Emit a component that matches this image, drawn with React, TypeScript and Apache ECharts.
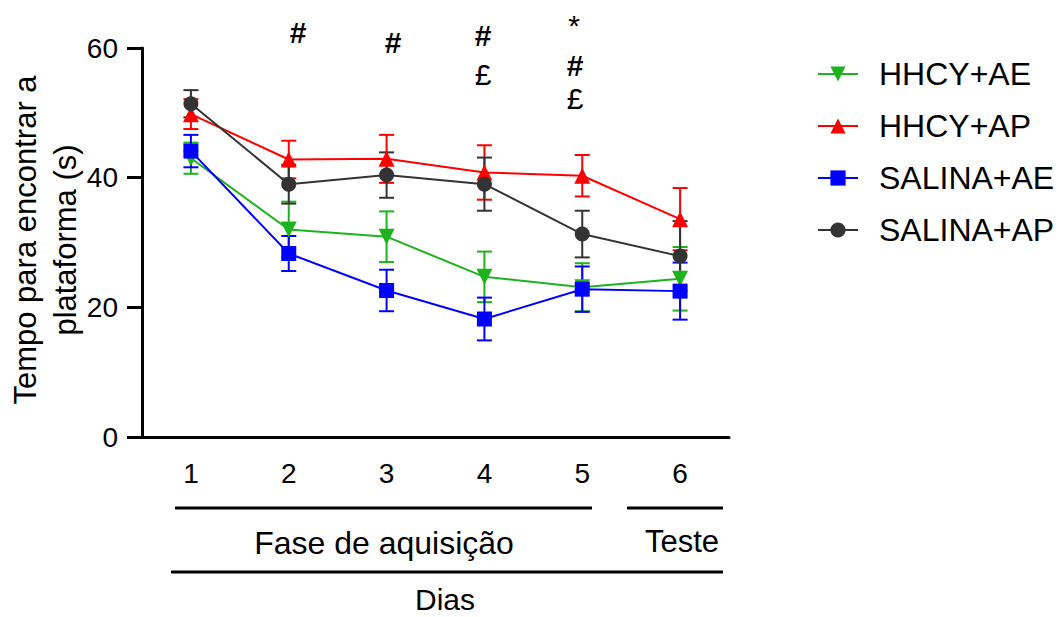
import React, { useEffect, useRef } from "react";
import * as echarts from "echarts";

const days = ["1", "2", "3", "4", "5", "6"];
const seriesNames = ["HHCY+AE", "HHCY+AP", "SALINA+AE", "SALINA+AP"];
const hhcyAE = [43.0, 32.0, 30.9, 24.7, 23.1, 24.4];
const hhcyAEErr = [2.4, 4.3, 3.9, 3.9, 3.7, 4.9];
const hhcyAP = [49.8, 42.8, 42.9, 40.8, 40.3, 33.6];
const hhcyAPErr = [2.3, 2.9, 3.7, 4.2, 3.2, 4.8];
const salinaAE = [44.1, 28.3, 22.6, 18.2, 22.8, 22.5];
const salinaAEErr = [2.5, 2.7, 3.2, 3.3, 3.5, 4.4];
const salinaAP = [51.4, 39.0, 40.4, 39.0, 31.3, 27.9];
const salinaAPErr = [2.1, 3.0, 3.5, 4.1, 3.6, 5.4];
const yTicks = [0, 20, 40, 60];

const FONT = "'Liberation Sans', Arial, sans-serif";

export default function App() {
  const ref = useRef<HTMLDivElement>(null);
  useEffect(() => {
    if (!ref.current) return;
    const chart = echarts.init(ref.current, null, { renderer: "svg" });
    const groups = [
      { name: seriesNames[0], values: hhcyAE, errs: hhcyAEErr, color: "#1db31d", symbol: "triangle", rotate: 180 },
      { name: seriesNames[1], values: hhcyAP, errs: hhcyAPErr, color: "#ff0000", symbol: "triangle", rotate: 0 },
      { name: seriesNames[2], values: salinaAE, errs: salinaAEErr, color: "#0000ff", symbol: "rect", rotate: 0 },
      { name: seriesNames[3], values: salinaAP, errs: salinaAPErr, color: "#333333", symbol: "circle", rotate: 0 },
    ];
    const series: any[] = [];
    groups.forEach((g) => {
      series.push({
        name: g.name + " erro",
        type: "custom",
        data: g.values.map((v, i) => [i, v - g.errs[i], v + g.errs[i]]),
        encode: { x: 0, y: [1, 2] },
        renderItem: (params: any, api: any) => {
          const x = api.value(0);
          const lo = api.coord([x, api.value(1)]);
          const hi = api.coord([x, api.value(2)]);
          const hw = 7.5;
          const st = { stroke: g.color, lineWidth: 2 };
          return {
            type: "group",
            children: [
              { type: "line", shape: { x1: lo[0], y1: lo[1], x2: hi[0], y2: hi[1] }, style: st },
              { type: "line", shape: { x1: lo[0] - hw, y1: lo[1], x2: lo[0] + hw, y2: lo[1] }, style: st },
              { type: "line", shape: { x1: hi[0] - hw, y1: hi[1], x2: hi[0] + hw, y2: hi[1] }, style: st },
            ],
          };
        },
        silent: true,
      });
      series.push({
        name: g.name,
        type: "line",
        data: g.values,
        symbol: g.symbol,
        symbolRotate: g.rotate,
        symbolSize: g.symbol === "triangle" ? 16 : 15,
        color: g.color,
        lineStyle: { color: g.color, width: 2 },
        itemStyle: { color: g.color },
      });
    });

    const annStyle = { fontSize: 30, fontFamily: FONT, fill: "#000", align: "center", verticalAlign: "middle" };
    const annotations = [
      { t: "#", x: 298, y: 32, w: "bold" },
      { t: "#", x: 393, y: 42, w: "bold" },
      { t: "#", x: 483, y: 35, w: "bold" },
      { t: "£", x: 483, y: 74, w: "normal" },
      { t: "*", x: 574, y: 25, w: "normal" },
      { t: "#", x: 575, y: 65, w: "bold" },
      { t: "£", x: 575, y: 98, w: "normal" },
    ];

    chart.setOption({
      animation: false,
      textStyle: { fontFamily: FONT },
      grid: { left: 142, right: 331, top: 48, bottom: 180, containLabel: false },
      legend: {
        orient: "vertical",
        left: 817,
        top: 58,
        itemWidth: 40,
        itemHeight: 19,
        itemGap: 20,
        padding: 0,
        data: seriesNames,
        textStyle: { fontSize: 32, color: "#000", fontFamily: FONT, padding: [0, 0, 0, 16] },
      },
      xAxis: {
        type: "category",
        data: days,
        boundaryGap: true,
        axisLine: { lineStyle: { color: "#000", width: 3 } },
        axisTick: { alignWithLabel: true, length: 15, lineStyle: { color: "#000", width: 3 } },
        axisLabel: { fontSize: 28, color: "#000", margin: 22, fontFamily: FONT },
        splitLine: { show: false },
      },
      yAxis: {
        type: "value",
        min: yTicks[0],
        max: yTicks[yTicks.length - 1],
        interval: 20,
        axisLine: { show: true, lineStyle: { color: "#000", width: 3 } },
        axisTick: { show: true, length: 15, lineStyle: { color: "#000", width: 3 } },
        axisLabel: { fontSize: 28, color: "#000", margin: 24, fontFamily: FONT },
        splitLine: { show: false },
      },
      graphic: [
        {
          type: "text",
          x: 45,
          y: 240,
          rotation: Math.PI / 2,
          style: {
            text: "Tempo para encontrar a\nplataforma (s)",
            fontSize: 31,
            lineHeight: 40,
            fontFamily: FONT,
            fill: "#000",
            align: "center",
            verticalAlign: "middle",
          },
        },
        { type: "line", shape: { x1: 175, y1: 508, x2: 592, y2: 508 }, style: { stroke: "#000", lineWidth: 3 } },
        { type: "line", shape: { x1: 627, y1: 508, x2: 723, y2: 508 }, style: { stroke: "#000", lineWidth: 3 } },
        { type: "line", shape: { x1: 171, y1: 572, x2: 723, y2: 572 }, style: { stroke: "#000", lineWidth: 3 } },
        { type: "text", x: 384, y: 543, style: { text: "Fase de aquisição", fontSize: 32, fontFamily: FONT, fill: "#000", align: "center", verticalAlign: "middle" } },
        { type: "text", x: 682, y: 541, style: { text: "Teste", fontSize: 31, fontFamily: FONT, fill: "#000", align: "center", verticalAlign: "middle" } },
        { type: "text", x: 445, y: 599, style: { text: "Dias", fontSize: 30, fontFamily: FONT, fill: "#000", align: "center", verticalAlign: "middle" } },
        ...annotations.map((a) => ({ type: "text", x: a.x, y: a.y, style: { ...annStyle, fontWeight: a.w, text: a.t } })),
      ],
      series,
    });
    return () => chart.dispose();
  }, []);
  return <div ref={ref} style={{ position: "fixed", left: 0, top: 0, width: 1060, height: 617, background: "#fff" }} />;
}
